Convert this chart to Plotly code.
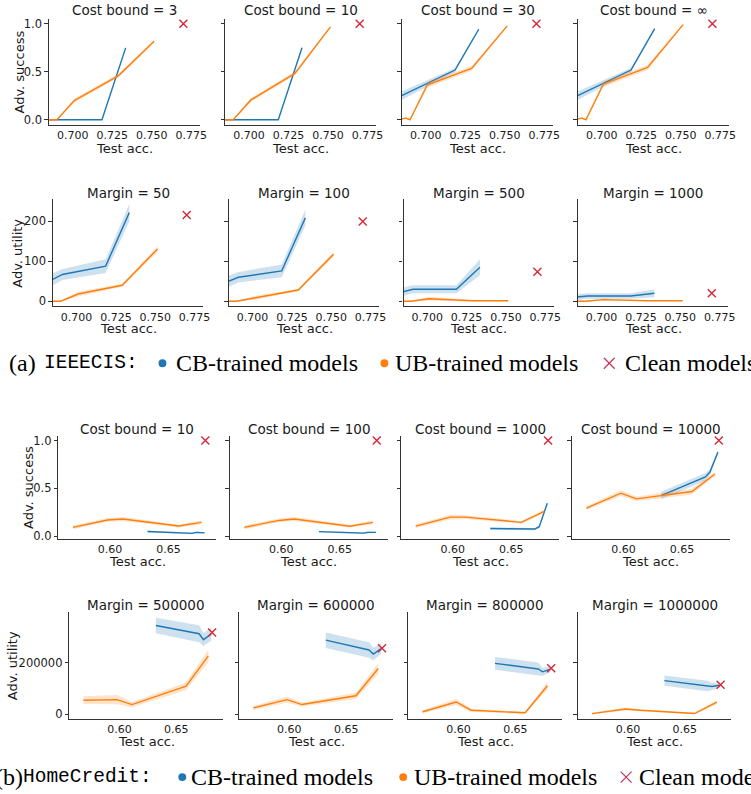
import plotly.graph_objects as go

# ------------------------------------------------------------------ data
# (a) IEEECIS : test accuracy of the trained models
a_cb_acc = [0.683, 0.691, 0.7185, 0.7335]
a_ub_acc = [0.683, 0.6875, 0.690, 0.701, 0.729, 0.7515]
a_clean_acc = 0.770

a_titles_succ = ["Cost bound = 3", "Cost bound = 10", "Cost bound = 30", "Cost bound = ∞"]
a_cb_succ_3 = [0.0, 0.0, 0.0, 0.748]
a_cb_succ_3_err = [0.003, 0.003, 0.003, 0.012]
a_ub_succ_3 = [0.0, 0.0, 0.0, 0.20, 0.46, 0.816]
a_ub_succ_3_err = [0.004, 0.004, 0.004, 0.02, 0.02, 0.015]
a_cb_succ_10 = [0.0, 0.0, 0.0, 0.75]
a_cb_succ_10_err = [0.003, 0.003, 0.003, 0.012]
a_ub_succ_10 = [0.0, 0.0, 0.0, 0.204, 0.483, 0.966]
a_ub_succ_10_err = [0.004, 0.004, 0.004, 0.02, 0.02, 0.012]
a_cb_succ_30 = [0.237, 0.30, 0.517, 0.942]
a_cb_succ_30_err = [0.045, 0.04, 0.022, 0.01]
a_ub_succ_30 = [0.005, 0.017, 0.0, 0.364, 0.534, 0.977]
a_ub_succ_30_err = [0.005, 0.01, 0.005, 0.03, 0.025, 0.01]
a_cb_succ_inf = [0.237, 0.30, 0.517, 0.948]
a_cb_succ_inf_err = [0.045, 0.04, 0.022, 0.01]
a_ub_succ_inf = [0.005, 0.017, 0.0, 0.37, 0.544, 0.99]
a_ub_succ_inf_err = [0.005, 0.01, 0.005, 0.03, 0.025, 0.01]
a_clean_succ = [1.0, 1.0, 1.0, 1.0]

a_titles_util = ["Margin = 50", "Margin = 100", "Margin = 500", "Margin = 1000"]
a_cb_util_50 = [51, 67, 88, 222]
a_cb_util_50_err = [15, 14, 17, 22]
a_ub_util_50 = [0, 0, 0, 18, 40, 131]
a_ub_util_50_err = [1, 1, 1, 6, 4, 7]
a_cb_util_100 = [47, 60, 76, 209]
a_cb_util_100_err = [14, 13, 16, 20]
a_ub_util_100 = [0, 0, 0, 8, 28, 118]
a_ub_util_100_err = [1, 1, 1, 5, 3, 6]
a_cb_util_500 = [22, 30, 30, 85]
a_cb_util_500_err = [11, 10, 10, 20]
a_ub_util_500 = [0, 0, 0, 6, 1, 1]
a_ub_util_500_err = [1, 1, 1, 5, 2, 1]
a_cb_util_1000 = [10, 13, 13, 20]
a_cb_util_1000_err = [8, 7, 7, 10]
a_ub_util_1000 = [0, 0, 0, 4, 1, 1]
a_ub_util_1000_err = [1, 1, 1, 3, 1, 1]
a_clean_util = [216, 200, 74, 20]

# (b) HomeCredit
b_cb_acc = [0.6321, 0.6701, 0.6739, 0.6808]
b_ub_acc = [0.5684, 0.5979, 0.6111, 0.6586, 0.6782]
b_clean_acc = 0.6815

b_titles_succ = ["Cost bound = 10", "Cost bound = 100", "Cost bound = 1000", "Cost bound = 10000"]
b_cb_succ_10 = [0.05, 0.03, 0.04, 0.035]
b_cb_succ_10_err = [0.01, 0.01, 0.01, 0.01]
b_ub_succ_10 = [0.093, 0.17, 0.18, 0.107, 0.145]
b_ub_succ_10_err = [0.02, 0.02, 0.02, 0.015, 0.02]
b_cb_succ_100 = [0.048, 0.032, 0.04, 0.04]
b_cb_succ_100_err = [0.01, 0.01, 0.01, 0.01]
b_ub_succ_100 = [0.093, 0.165, 0.18, 0.105, 0.145]
b_ub_succ_100_err = [0.02, 0.02, 0.02, 0.015, 0.02]
b_cb_succ_1000 = [0.08, 0.075, 0.10, 0.345]
b_cb_succ_1000_err = [0.012, 0.012, 0.015, 0.02]
b_ub_succ_1000 = [0.105, 0.20, 0.20, 0.145, 0.26]
b_ub_succ_1000_err = [0.02, 0.025, 0.02, 0.015, 0.02]
b_cb_succ_10000 = [0.425, 0.62, 0.67, 0.88]
b_cb_succ_10000_err = [0.04, 0.04, 0.03, 0.02]
b_ub_succ_10000 = [0.294, 0.45, 0.39, 0.467, 0.65]
b_ub_succ_10000_err = [0.02, 0.03, 0.025, 0.03, 0.02]
b_clean_succ = [1.0, 1.0, 1.0, 1.0]

b_titles_util = ["Margin = 500000", "Margin = 600000", "Margin = 800000", "Margin = 1000000"]
b_cb_util_500k = [345000, 313000, 290000, 312000]
b_cb_util_500k_err = [30000, 33000, 25000, 25000]
b_ub_util_500k = [55000, 57000, 38000, 109000, 227000]
b_ub_util_500k_err = [15000, 18000, 10000, 15000, 25000]
b_cb_util_600k = [288000, 250000, 234000, 255000]
b_cb_util_600k_err = [30000, 30000, 25000, 20000]
b_ub_util_600k = [25000, 57000, 38000, 72000, 178000]
b_ub_util_600k_err = [8000, 12000, 8000, 12000, 20000]
b_cb_util_800k = [198000, 176000, 165000, 175000]
b_cb_util_800k_err = [25000, 25000, 15000, 12000]
b_ub_util_800k = [10000, 48000, 16000, 6000, 111000]
b_ub_util_800k_err = [6000, 12000, 6000, 4000, 15000]
b_cb_util_1m = [131000, 110000, 108000, 113000]
b_cb_util_1m_err = [20000, 20000, 15000, 10000]
b_ub_util_1m = [3000, 21000, 16000, 3000, 47000]
b_ub_util_1m_err = [3000, 6000, 4000, 3000, 8000]
b_clean_util = [318000, 257000, 179000, 115000]

a_xticks = [0.700, 0.725, 0.750, 0.775]
a_xticktext = ["0.700", "0.725", "0.750", "0.775"]
b_xticks = [0.60, 0.65]
b_xticktext = ["0.60", "0.65"]

# ------------------------------------------------------------------ style / layout
W, H = 751, 794
BLUE, ORANGE, RED = "#1f77b4", "#ff7f0e", "#d62738"
BLUE_FILL, ORANGE_FILL = "rgba(31,119,180,0.22)", "rgba(255,127,14,0.22)"
FONT = "DejaVu Sans"
TXT = "#1a1a1a"


def fx(p):
    return p / W


def fy(p):
    return 1 - p / H


rows = [
    dict(top=17, bottom=123.5, lefts=[49.3, 227.3, 405.7, 583.3], width=152.7,
         xr=[0.6849, 0.7806], yr=[-0.05, 1.05], xt=a_xticks, xtt=a_xticktext,
         yt=[0, 0.5, 1.0], ytt=["0.0", "0.5", "1.0"], ylab="Adv. success", ylab_x=20,
         xlab_y=148, title_y=8.5, titles=a_titles_succ,
         cbx=a_cb_acc, ubx=a_ub_acc, cx=a_clean_acc,
         cb=[(a_cb_succ_3, a_cb_succ_3_err), (a_cb_succ_10, a_cb_succ_10_err),
             (a_cb_succ_30, a_cb_succ_30_err), (a_cb_succ_inf, a_cb_succ_inf_err)],
         ub=[(a_ub_succ_3, a_ub_succ_3_err), (a_ub_succ_10, a_ub_succ_10_err),
             (a_ub_succ_30, a_ub_succ_30_err), (a_ub_succ_inf, a_ub_succ_inf_err)],
         clean=a_clean_succ),
    dict(top=199, bottom=306.7, lefts=[53.3, 231, 407.3, 583.3], width=152,
         xr=[0.6849, 0.7806], yr=[-13, 255], xt=a_xticks, xtt=a_xticktext,
         yt=[0, 100, 200], ytt=["0", "100", "200"], ylab="Adv. utility", ylab_x=18,
         xlab_y=329, title_y=192.5, titles=a_titles_util,
         cbx=a_cb_acc, ubx=a_ub_acc, cx=a_clean_acc,
         cb=[(a_cb_util_50, a_cb_util_50_err), (a_cb_util_100, a_cb_util_100_err),
             (a_cb_util_500, a_cb_util_500_err), (a_cb_util_1000, a_cb_util_1000_err)],
         ub=[(a_ub_util_50, a_ub_util_50_err), (a_ub_util_100, a_ub_util_100_err),
             (a_ub_util_500, a_ub_util_500_err), (a_ub_util_1000, a_ub_util_1000_err)],
         clean=a_clean_util),
    dict(top=437, bottom=541, lefts=[59, 232, 405, 577.3], width=159.5,
         xr=[0.556, 0.691], yr=[-0.028, 1.05], xt=b_xticks, xtt=b_xticktext,
         yt=[0, 0.5, 1.0], ytt=["0.0", "0.5", "1.0"], ylab="Adv. success", ylab_x=29,
         xlab_y=564, title_y=430.5, titles=b_titles_succ,
         cbx=b_cb_acc, ubx=b_ub_acc, cx=b_clean_acc,
         cb=[(b_cb_succ_10, b_cb_succ_10_err), (b_cb_succ_100, b_cb_succ_100_err),
             (b_cb_succ_1000, b_cb_succ_1000_err), (b_cb_succ_10000, b_cb_succ_10000_err)],
         ub=[(b_ub_succ_10, b_ub_succ_10_err), (b_ub_succ_100, b_ub_succ_100_err),
             (b_ub_succ_1000, b_ub_succ_1000_err), (b_ub_succ_10000, b_ub_succ_10000_err)],
         clean=b_clean_succ),
    dict(top=615, bottom=722.7, lefts=[70, 241.5, 412.3, 583.3], width=155,
         xr=[0.556, 0.691], yr=[-19000, 396000], xt=b_xticks, xtt=b_xticktext,
         yt=[0, 200000], ytt=["0", "200000"], ylab="Adv. utility", ylab_x=12.5,
         xlab_y=745, title_y=608, titles=b_titles_util,
         cbx=b_cb_acc, ubx=b_ub_acc, cx=b_clean_acc,
         cb=[(b_cb_util_500k, b_cb_util_500k_err), (b_cb_util_600k, b_cb_util_600k_err),
             (b_cb_util_800k, b_cb_util_800k_err), (b_cb_util_1m, b_cb_util_1m_err)],
         ub=[(b_ub_util_500k, b_ub_util_500k_err), (b_ub_util_600k, b_ub_util_600k_err),
             (b_ub_util_800k, b_ub_util_800k_err), (b_ub_util_1m, b_ub_util_1m_err)],
         clean=b_clean_util),
]

fig = go.Figure()
annotations = []
layout_axes = {}


def band(xs, ys, es):
    up = [y + e for y, e in zip(ys, es)]
    lo = [y - e for y, e in zip(ys, es)]
    return list(xs) + list(xs)[::-1], up + lo[::-1]


k = 0
for r in rows:
    for j in range(4):
        k += 1
        xa = "x" if k == 1 else f"x{k}"
        ya = "y" if k == 1 else f"y{k}"
        left = r["lefts"][j]
        right = left + r["width"]
        axis_common = dict(showline=True, linecolor="#333333", linewidth=1.1, mirror=False,
                           showgrid=False, zeroline=False, tickwidth=1, tickcolor="#333333")
        layout_axes["xaxis" if k == 1 else f"xaxis{k}"] = dict(
            axis_common, ticks="", tickfont=dict(family=FONT, size=11, color=TXT),
            domain=[fx(left), fx(right)], anchor=ya, range=r["xr"],
            tickmode="array", tickvals=r["xt"], ticktext=r["xtt"])
        layout_axes["yaxis" if k == 1 else f"yaxis{k}"] = dict(
            axis_common, ticks="outside", ticklen=3.5,
            tickfont=dict(family=FONT, size=11.5, color=TXT),
            domain=[fy(r["bottom"]), fy(r["top"])], anchor=xa,
            range=r["yr"], tickmode="array", tickvals=r["yt"], ticktext=r["ytt"],
            showticklabels=(j == 0))

        cby, cbe = r["cb"][j]
        uby, ube = r["ub"][j]
        bx, by = band(r["cbx"], cby, cbe)
        fig.add_trace(go.Scatter(x=bx, y=by, xaxis=xa, yaxis=ya, fill="toself", fillcolor=BLUE_FILL,
                                 line=dict(width=0), mode="lines", hoverinfo="skip", showlegend=False))
        fig.add_trace(go.Scatter(x=r["cbx"], y=cby, xaxis=xa, yaxis=ya, mode="lines",
                                 line=dict(color=BLUE, width=1.4), showlegend=False))
        bx, by = band(r["ubx"], uby, ube)
        fig.add_trace(go.Scatter(x=bx, y=by, xaxis=xa, yaxis=ya, fill="toself", fillcolor=ORANGE_FILL,
                                 line=dict(width=0), mode="lines", hoverinfo="skip", showlegend=False))
        fig.add_trace(go.Scatter(x=r["ubx"], y=uby, xaxis=xa, yaxis=ya, mode="lines",
                                 line=dict(color=ORANGE, width=1.4), showlegend=False))
        fig.add_trace(go.Scatter(x=[r["cx"]], y=[r["clean"][j]], xaxis=xa, yaxis=ya, mode="markers",
                                 marker=dict(symbol="x-thin", size=8, color=RED,
                                             line=dict(color=RED, width=1.4)),
                                 cliponaxis=False, showlegend=False))

        cx = (left + right) / 2
        annotations.append(dict(text=r["titles"][j], x=fx(cx), y=fy(r["title_y"]), xref="paper",
                                yref="paper", xanchor="center", yanchor="middle", showarrow=False,
                                font=dict(family=FONT, size=13.5, color=TXT)))
        annotations.append(dict(text="Test acc.", x=fx(cx), y=fy(r["xlab_y"]), xref="paper",
                                yref="paper", xanchor="center", yanchor="middle", showarrow=False,
                                font=dict(family=FONT, size=13, color=TXT)))
    annotations.append(dict(text=r["ylab"], x=fx(r["ylab_x"]), y=fy((r["top"] + r["bottom"]) / 2),
                            xref="paper", yref="paper", xanchor="center", yanchor="middle",
                            textangle=-90, showarrow=False,
                            font=dict(family=FONT, size=13, color=TXT)))

# ------------------------------------------------------------------ captions
SERIF, MONO = "Liberation Serif", "Liberation Mono"
shapes = []
captions = [
    dict(y=364, label="(a)", label_x=7, name="IEEECIS:", name_x=42, dot1=164, t1=176,
         dot2=388, t2=397, cross=615, t3=629),
    dict(y=781, label="(b)", label_x=-7.5, name="HomeCredit:", name_x=21.5, dot1=184, t1=191,
         dot2=407, t2=416, cross=632, t3=643),
]
for c in captions:
    yy = fy(c["y"])
    for txt, xp, fam, sz in [(c["label"], c["label_x"], SERIF, 24), (c["name"], c["name_x"], MONO, 19.5),
                             ("CB-trained models", c["t1"], SERIF, 24),
                             ("UB-trained models", c["t2"], SERIF, 24),
                             ("Clean models", c["t3"], SERIF, 24)]:
        annotations.append(dict(text=txt, x=fx(xp), y=yy, xref="paper", yref="paper", xanchor="left",
                                yanchor="middle", showarrow=False,
                                font=dict(family=fam, size=sz, color="#000000")))
    for xd, col in [(c["dot1"], BLUE), (c["dot2"], ORANGE)]:
        shapes.append(dict(type="circle", xref="paper", yref="paper", x0=fx(xd - 4), x1=fx(xd + 4),
                           y0=fy(c["y"] + 4), y1=fy(c["y"] - 4), fillcolor=col, line=dict(width=0)))
    s = 5.5
    for (x0, y0, x1, y1) in [(c["cross"] - s, c["y"] - s, c["cross"] + s, c["y"] + s),
                             (c["cross"] - s, c["y"] + s, c["cross"] + s, c["y"] - s)]:
        shapes.append(dict(type="line", xref="paper", yref="paper", x0=fx(x0), y0=fy(y0),
                           x1=fx(x1), y1=fy(y1), line=dict(color="#c8325a", width=1.2)))

fig.update_layout(width=W, height=H, margin=dict(l=0, r=0, t=0, b=0), paper_bgcolor="white",
                  plot_bgcolor="white", showlegend=False, annotations=annotations, shapes=shapes,
                  **layout_axes)
fig.write_html("out.html", config={"displayModeBar": False},
               post_script="document.body.style.margin='0';document.body.style.padding='0';"
                           "document.body.style.overflow='hidden';")
